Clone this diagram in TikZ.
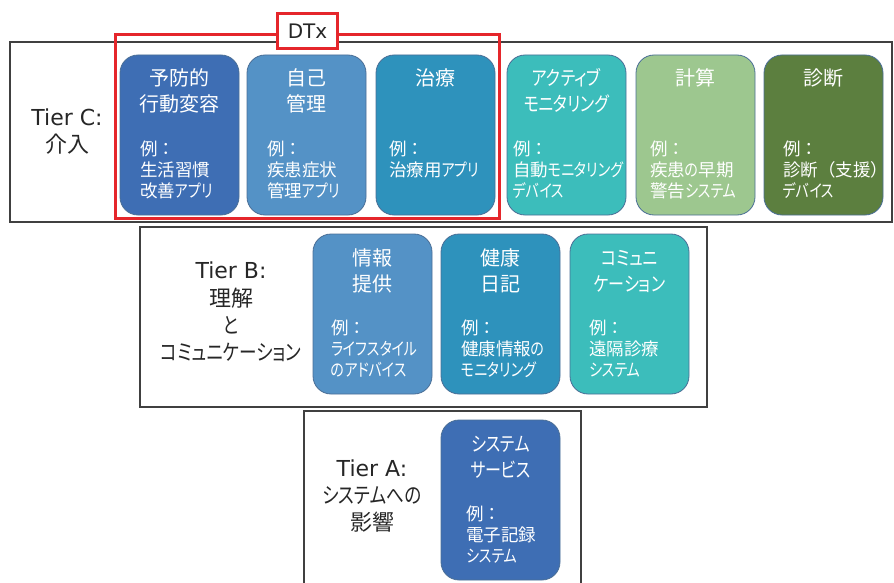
\documentclass[tikz,border=0pt]{standalone}
\usepackage{fontspec}
\setmainfont{Noto Sans CJK JP}
\newfontfamily\knfont{Noto Sans CJK JP}[RawFeature={+palt}, FakeStretch=0.8]
\newcommand{\kn}[1]{{\knfont #1}}
\newfontfamily\lat{DejaVu Sans}
\definecolor{cblue}{HTML}{3E6EB4}
\definecolor{clight}{HTML}{5492C6}
\definecolor{cteal}{HTML}{2E92BC}
\definecolor{ccyan}{HTML}{3CBDBB}
\definecolor{cgreen}{HTML}{9DC78F}
\definecolor{cdark}{HTML}{5C7F3F}
\definecolor{boxedge}{HTML}{4A6E96}
\definecolor{dtxred}{HTML}{E5262B}
\definecolor{labtext}{HTML}{262626}
\tikzset{
  tbox/.style={draw=boxedge, line width=0.8pt, rounded corners=18pt, minimum width=119pt, minimum height=160pt, inner sep=0pt},
  ttl/.style={text=white, font=\fontsize{20}{24}\selectfont, anchor=base, inner sep=0pt},
  ex/.style={text=white, font=\fontsize{17.5}{21}\selectfont, anchor=base west, inner sep=0pt},
  lbl/.style={text=labtext, font=\fontsize{22}{26}\selectfont, anchor=base, inner sep=0pt},
  tier/.style={draw=black!75, line width=1.3pt},
  redframe/.style={draw=dtxred, line width=3pt},
}
\newcommand{\tbx}[7]{%
  \node[tbox, fill=#4] (#1) at ({#2+59.5},{#3+80}) {};
  \foreach \mytext [count=\i] in {#5} {\node[ttl] (#1t\i) at ({#2+59.5},{#3+31+26*(\i-1)}) {\mytext};}
  \foreach \mytext [count=\i] in {#6} {\node[ex] (#1e\i) at ({#2+#7},{#3+100+21*(\i-1)}) {\mytext};}
}
\begin{document}
\begin{tikzpicture}[x=1pt,y=-1pt]
\useasboundingbox (0,0) rectangle (894,583);
% tier frames
\draw[tier] (10,42) rectangle (892,222);
\draw[tier] (140,227) rectangle (707,407);
\draw[tier] (304,590) -- (304,411) -- (581,411) -- (581,590);
% tier labels
\node[lbl] (lc1) at (67,126) {\lat Tier C:};
\node[lbl] (lc2) at (67,153) {介入};
\node[lbl] (lb1) at (231,278) {\lat Tier B:};
\node[lbl] (lb2) at (231,306) {理解};
\node[lbl] (lb3) at (231,333) {\kn{と}};
\node[lbl] (lb4) at (231,360) {\kn{コミュニケーション}};
\node[lbl] (la1) at (372,476) {\lat Tier A:};
\node[lbl] (la2) at (372,503) {\kn{システムへの}};
\node[lbl] (la3) at (372,530) {影響};
% Tier C boxes
\tbx{c1}{120}{55}{cblue}{予防的,行動変容}{例：,生活習慣,改善\kn{アプリ}}{20}
\tbx{c2}{247}{55}{clight}{自己,管理}{例：,疾患症状,管理\kn{アプリ}}{20}
\tbx{c3}{376}{55}{cteal}{治療}{例：,治療用\kn{アプリ}}{13}
\tbx{c4}{507}{55}{ccyan}{\kn{アクティブ},\kn{モニタリング}}{例：,自動\kn{モニタリング},\kn{デバイス}}{6}
\tbx{c5}{636}{55}{cgreen}{計算}{例：,疾患\kn{の}早期,警告\kn{システム}}{14}
\tbx{c6}{764}{55}{cdark}{診断}{例：,診断（支援）,\kn{デバイス}}{19}
% Tier B boxes
\tbx{b1}{313}{234}{clight}{情報,提供}{例：,\kn{ライフスタイル},\kn{のアドバイス}}{18}
\tbx{b2}{441}{234}{cteal}{健康,日記}{例：,健康情報\kn{の},\kn{モニタリング}}{20}
\tbx{b3}{570}{234}{ccyan}{\kn{コミュニ},\kn{ケーション}}{例：,遠隔診療,\kn{システム}}{19}
% Tier A box
\tbx{a1}{441}{420}{cblue}{\kn{システム},\kn{サービス}}{例：,電子記録,\kn{システム}}{25}
% DTx frame
\draw[redframe] (115,35) rectangle (499,218);
\node[redframe, fill=white, minimum width=60pt, minimum height=35pt, inner sep=0pt, font=\lat\fontsize{20}{24}\selectfont, text=labtext] (dtx) at (307.5,31) {DTx};
\end{tikzpicture}
\end{document}
